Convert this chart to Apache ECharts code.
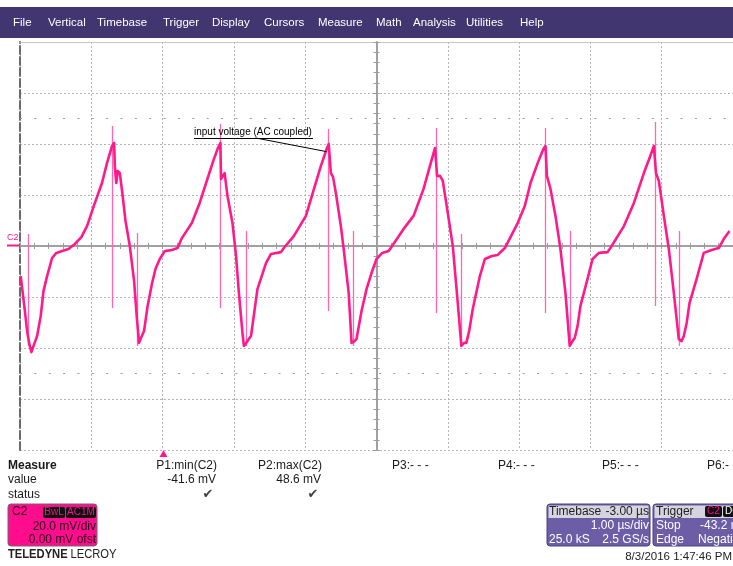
<!DOCTYPE html>
<html><head><meta charset="utf-8">
<script src="https://cdn.jsdelivr.net/npm/echarts@6/dist/echarts.min.js"></script>
<style>html,body{margin:0;padding:0;background:#fff;}#c{width:733px;height:566px;}</style>
</head><body><div id="c"></div>
<script>
// ---------- data (time in µs relative to screen centre, voltage in mV) ----------
const menuItems = ['File','Vertical','Timebase','Trigger','Display','Cursors','Measure','Math','Analysis','Utilities','Help'];
const trace = [
[-4.99,-11.8],[-4.94,-23.5],[-4.90,-33.3],[-4.87,-38.4],[-4.84,-41.6],[-4.80,-38.4],[-4.76,-35.3],[-4.71,-27.5],[-4.67,-17.6],[-4.62,-11.8],
[-4.55,-4.7],[-4.49,-2.7],[-4.41,-2.0],[-4.32,-1.2],[-4.23,0.8],[-4.14,3.5],[-4.06,7.8],[-3.95,16.9],[-3.85,24.7],[-3.78,32.5],
[-3.71,39.2],[-3.68,40.4],[-3.67,31.4],[-3.65,24.7],[-3.63,29.4],[-3.60,28.6],[-3.56,19.6],[-3.52,9.8],[-3.46,0],[-3.40,-13.7],
[-3.36,-28.6],[-3.33,-38.0],[-3.31,-36.5],[-3.26,-33.3],[-3.21,-23.5],[-3.15,-14.9],[-3.10,-9.0],[-3.04,-5.1],[-2.97,-2.0],[-2.87,-1.6],
[-2.79,-0.8],[-2.73,3.1],[-2.59,9.0],[-2.48,16.9],[-2.39,24.7],[-2.30,32.5],[-2.23,38.0],[-2.19,40.4],[-2.18,26.3],[-2.13,28.6],
[-2.09,19.6],[-2.02,9.0],[-1.97,-3.9],[-1.93,-18.4],[-1.88,-34.1],[-1.86,-39.2],[-1.81,-37.3],[-1.76,-35.3],[-1.67,-16.9],[-1.55,-6.7],
[-1.48,-3.1],[-1.34,-2.4],[-1.30,-0.8],[-1.16,3.9],[-0.99,11.8],[-0.92,18.4],[-0.78,31.4],[-0.70,38.0],[-0.67,40.0],[-0.64,28.6],
[-0.61,27.1],[-0.57,20.8],[-0.50,7.8],[-0.46,-1.2],[-0.39,-18.4],[-0.35,-38.0],[-0.31,-37.3],[-0.28,-36.5],[-0.21,-25.5],[-0.14,-16.9],
[-0.07,-10.6],[0,-5.1],[0.08,-2.7],[0.17,-2.0],[0.20,-0.8],[0.38,6.7],[0.52,11.8],[0.66,22.4],[0.75,31.4],[0.82,38.4],
[0.85,27.5],[0.89,27.5],[0.93,25.5],[1.00,12.9],[1.07,0],[1.14,-22.4],[1.19,-39.2],[1.23,-38.0],[1.26,-38.0],[1.30,-33.3],
[1.35,-24.7],[1.45,-11.8],[1.52,-5.1],[1.62,-3.9],[1.70,-3.5],[1.80,-0.8],[1.98,9.0],[2.08,15.7],[2.16,24.7],[2.26,32.5],
[2.34,38.0],[2.37,39.2],[2.39,27.5],[2.41,27.5],[2.44,22.4],[2.51,11.8],[2.58,-1.2],[2.65,-18.4],[2.71,-39.2],[2.75,-37.3],
[2.78,-36.1],[2.82,-31.4],[2.86,-23.5],[2.96,-12.9],[3.03,-5.1],[3.12,-2.7],[3.24,-2.4],[3.28,-0.8],[3.47,7.8],[3.61,16.9],
[3.75,28.6],[3.84,35.3],[3.89,39.2],[3.92,28.6],[3.96,25.5],[4.03,11.8],[4.10,-1.2],[4.17,-18.4],[4.24,-36.5],[4.28,-37.3],
[4.31,-35.3],[4.35,-30.2],[4.39,-22.4],[4.49,-12.9],[4.59,-2.7],[4.70,-1.6],[4.80,-0.8],[4.87,2.7],[4.95,5.9]
];
const spikeTimes   = [-4.88,-3.70,-3.35,-2.19,-1.83,-0.67,-0.32,0.84,1.19,2.37,2.72,3.91,4.24];
const spikeTops    = [4.7,47.1,5.1,47.8,5.9,45.9,5.9,46.3,4.7,46.3,5.9,48.6,5.9];
const spikeBottoms = [-39.2,-24.3,-39.2,-24.3,-39.2,-25.5,-39.2,-26.3,-39.2,-26.3,-39.2,-23.5,-39.2];
const annotationText = 'input voltage (AC coupled)';
const annotationFrom = [-1.70, 42.4];
const annotationTo = [-0.70, 37.0];
const guideLevels = [50, -50];
const measureNames = ['P1:min(C2)','P2:max(C2)','P3:- - -','P4:- - -','P5:- - -','P6:- - -'];
const measureValues = ['-41.6 mV','48.6 mV'];
const channelInfo = ['20.0 mV/div','0.00 mV ofst'];
const timebaseInfo = ['-3.00 µs','1.00 µs/div','25.0 kS','2.5 GS/s'];
const triggerInfo = ['-43.2 mV','Negative'];
const timestamp = '8/3/2016 1:47:46 PM';

// ---------- chart ----------
const PINK = '#ff1a8c';
const FONT = '"Liberation Sans", Arial, sans-serif';
const chart = echarts.init(document.getElementById('c'), null, {renderer:'canvas'});
const grid = {left:20, right:-5, top:42, bottom:116};
const gridLine = {show:true, lineStyle:{color:'#b4b4b4', type:[2,2], width:1}};
const centerLine = {color:'#9c9c9c', width:1.5};
function valAxis(min,max,interval,extra){
  return Object.assign({type:'value', min:min, max:max, interval:interval,
    axisLabel:{show:false}, splitLine:{show:false}, axisTick:{show:false}, minorTick:{show:false}}, extra);
}
const tickStyle = {color:'#9c9c9c', width:1};
function txt(x,y,text,o){
  o = o||{};
  const st = {text:text, fill:o.fill||'#1a1a1a',
    font:(o.weight||'normal')+' '+(o.size||12)+'px '+(o.family||FONT), align:o.align||'left', verticalAlign:'middle'};
  if(o.rich) st.rich = o.rich;
  const el = {type:'text', x:x, y:y, silent:true, z:o.z||10, style:st};
  if(o.scaleX) el.scaleX = o.scaleX;
  return el;
}
function rect(x,y,w,h,fill,o){
  o=o||{};
  return {type:'rect', silent:true, z:o.z||9, shape:{x:x,y:y,width:w,height:h,r:o.r||0},
    style:{fill:fill, stroke:o.stroke||null, lineWidth:o.lw||1}};
}
const g = [];
// menu bar
g.push(rect(0,7,733,31,'#41366f',{z:8}));
const menuX = [13,48,97,163,212,264,318,376,413,466,520];
menuItems.forEach((m,i)=>g.push(txt(menuX[i],23,m,{fill:'#ffffff',size:11.5})));
// annotation text + underline
g.push(txt(194,132,annotationText,{fill:'#000',size:10}));
g.push({type:'line', silent:true, z:10, shape:{x1:194,y1:138.5,x2:313,y2:138.5}, style:{stroke:'#000',lineWidth:1}});
// C2 ground marker
g.push(txt(7,238,'C2',{fill:PINK,size:9}));
g.push({type:'line', silent:true, z:10, shape:{x1:7,y1:245.5,x2:20,y2:245.5}, style:{stroke:PINK,lineWidth:2}});
// trigger marker
g.push({type:'polygon', silent:true, z:10, shape:{points:[[159.5,457],[167.5,457],[163.5,450]]}, style:{fill:PINK}});
// measure table
g.push(txt(8,466,'Measure',{weight:'bold'}));
g.push(txt(8,480,'value'));
g.push(txt(8,495,'status'));
const measureRight = [217,322];
const measureLeft = [392,498,602,707];
measureNames.forEach((n,i)=>{
  if(i<2) g.push(txt(measureRight[i],466,n,{align:'right'}));
  else g.push(txt(measureLeft[i-2],466,n));
});
measureValues.forEach((v,i)=>{
  g.push(txt(measureRight[i]-1,480,v,{align:'right'}));
  g.push(txt(measureRight[i]-9,495,'✔',{align:'center',fill:'#404040',size:13,family:'"DejaVu Sans"'}));
});
// channel box
g.push(rect(8,504,89,42,'#ff0d8c',{stroke:'#6a6a6a',r:3}));
g.push(txt(12,512,'C2',{fill:'#2a0a1a'}));
g.push(rect(43,507,22,11,'#111',{r:2,z:10}));
g.push(txt(54,512.5,'BwL',{align:'center',fill:'#ff0d8c',size:10,z:11}));
g.push(rect(66,507,30,11,'#111',{r:2,z:10}));
g.push(txt(81,512.5,'AC1M',{align:'center',fill:'#ff0d8c',size:10,z:11}));
g.push(txt(96,527,channelInfo[0],{align:'right',fill:'#2a0a1a'}));
g.push(txt(96,540,channelInfo[1],{align:'right',fill:'#2a0a1a'}));
// logo
g.push(txt(8,554,'{b|TELEDYNE} {r|LECROY}',{fill:'#222',scaleX:0.86,rich:{
  b:{font:'bold 13px "Liberation Sans", Arial', fill:'#222'},
  r:{font:'13px "Liberation Sans", Arial', fill:'#222'}}}));
// timebase box
g.push(rect(547,504,103,42,'#6b5ea6',{stroke:'#4a4080',r:3}));
g.push(rect(548.5,505.5,100,12.5,'#d6d4de',{z:10}));
g.push(txt(549,511.5,'Timebase',{fill:'#222',z:11}));
g.push(txt(649,511.5,timebaseInfo[0],{align:'right',fill:'#222',z:11}));
g.push(txt(649,526,timebaseInfo[1],{align:'right',fill:'#fff'}));
g.push(txt(549,540,timebaseInfo[2],{fill:'#fff'}));
g.push(txt(649,540,timebaseInfo[3],{align:'right',fill:'#fff'}));
// trigger box
g.push(rect(653,504,95,42,'#6b5ea6',{stroke:'#4a4080',r:3}));
g.push(rect(654.5,505.5,93,12.5,'#d6d4de',{z:10}));
g.push(txt(656,511.5,'Trigger',{fill:'#222',z:11}));
g.push(rect(705,506,17,11,'#111',{r:2,z:11}));
g.push(txt(713.5,511.5,'C2',{align:'center',fill:'#ff0d8c',size:10,z:12}));
g.push(rect(723,506,17,11,'#111',{r:2,z:11}));
g.push(txt(725,511.5,'DC',{fill:'#fff',size:10,z:12}));
g.push(txt(656,526,'Stop',{fill:'#fff'}));
g.push(txt(700,526,triggerInfo[0],{fill:'#fff'}));
g.push(txt(656,540,'Edge',{fill:'#fff'}));
g.push(txt(698,540,triggerInfo[1],{fill:'#fff'}));
// timestamp
g.push(txt(732,557,timestamp,{align:'right',size:11.5,fill:'#222'}));

const option = {
  animation:false,
  backgroundColor:'#ffffff',
  grid:grid,
  xAxis:[
    valAxis(-5,5,1,{position:'bottom', splitLine:gridLine,
      axisLine:{onZero:true, lineStyle:centerLine},
      axisTick:{show:true, inside:true, length:3, lineStyle:tickStyle},
      minorTick:{show:true, splitNumber:5, length:3, lineStyle:tickStyle}}),
    valAxis(-5,5,1,{position:'bottom',
      axisLine:{onZero:true, lineStyle:centerLine},
      axisTick:{show:true, inside:false, length:3, lineStyle:tickStyle},
      minorTick:{show:true, splitNumber:5, length:3, lineStyle:tickStyle}}),
    valAxis(-5,5,1,{position:'top', axisLine:{onZero:false, lineStyle:{color:'#c4c4c4', width:1}}})
  ],
  yAxis:[
    valAxis(-80,80,20,{position:'left', splitLine:gridLine,
      axisLine:{onZero:true, lineStyle:centerLine},
      axisTick:{show:true, inside:true, length:3, lineStyle:tickStyle},
      minorTick:{show:true, splitNumber:5, length:3, lineStyle:tickStyle}}),
    valAxis(-80,80,20,{position:'left',
      axisLine:{onZero:true, lineStyle:centerLine},
      axisTick:{show:true, inside:false, length:3, lineStyle:tickStyle},
      minorTick:{show:true, splitNumber:5, length:3, lineStyle:tickStyle}}),
    valAxis(-80,80,20,{position:'left', axisLine:{onZero:false, lineStyle:{color:'#6a6a6a', width:2, type:[8,3]}}})
  ],
  graphic:g,
  series:[
    {type:'lines', coordinateSystem:'cartesian2d', xAxisIndex:0, yAxisIndex:0, silent:true, z:3,
      lineStyle:{color:'#ff66b0', width:1.3, opacity:1},
      data: spikeTimes.map((t,i)=>({coords:[[t,spikeTops[i]],[t,spikeBottoms[i]]]}))},
    {type:'line', xAxisIndex:0, yAxisIndex:0, data:trace, showSymbol:false, symbol:'none', silent:true, z:4,
      lineStyle:{color:PINK, width:2.6, join:'round'},
      markLine:{silent:true, symbol:'none', animation:false, label:{show:false},
        data:[
          ...guideLevels.map(v=>({yAxis:v, lineStyle:{color:'#9a9a9a', type:[2,12.36], width:1}})),
          [{coord:annotationFrom, lineStyle:{color:'#000', type:'solid', width:1}}, {coord:annotationTo}]
        ]}}
  ]
};
chart.setOption(option);
</script>
</body></html>
